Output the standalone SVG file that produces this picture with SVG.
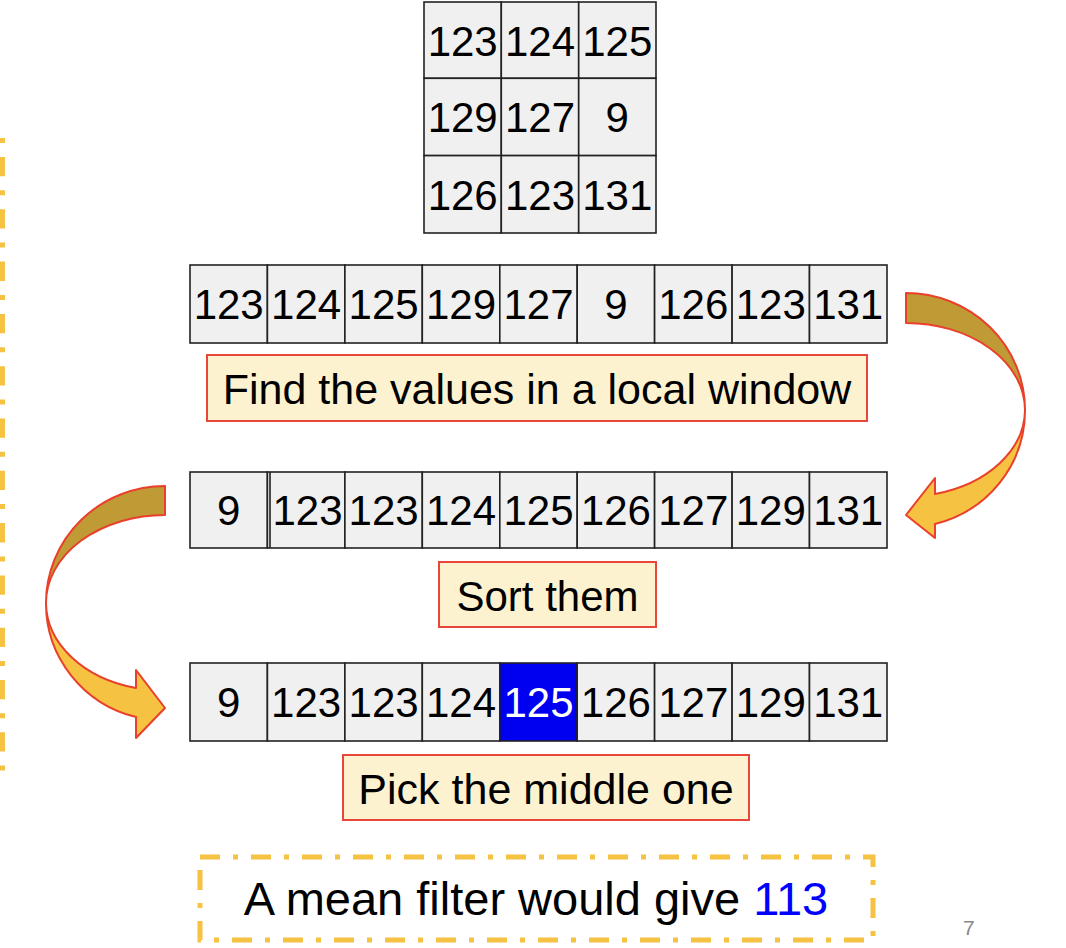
<svg xmlns="http://www.w3.org/2000/svg" width="1066" height="948" viewBox="0 0 1066 948">
<style>
.cell{fill:#f0f0f0;stroke:#222;stroke-width:1.6}
.num{font-family:"Liberation Sans",Arial,sans-serif;font-size:42px;fill:#000;text-anchor:middle}
.lbl{fill:#fdf2d0;stroke:#e8463a;stroke-width:2}
.lt{font-family:"Liberation Sans",Arial,sans-serif;font-size:43px;fill:#000;text-anchor:middle}
.dash{fill:none;stroke:#f5c242;stroke-width:5;stroke-dasharray:20 13 5 13}
.dark{fill:#c09a35;stroke:#e8402a;stroke-width:2;stroke-linejoin:round}
.light{fill:#f5c242;stroke:#e8402a;stroke-width:2;stroke-linejoin:round}
</style>
<rect width="1066" height="948" fill="#fff"/>

<g id="frame-left">
<line x1="2.5" y1="138" x2="2.5" y2="772" class="dash" style="stroke-dasharray:5 14 19.3 14"/>
</g>

<g id="window-grid">
<rect class="cell" x="424" y="2" width="77.3" height="76.3"/>
<rect class="cell" x="501.3" y="2" width="77.4" height="76.3"/>
<rect class="cell" x="578.7" y="2" width="77.3" height="76.3"/>
<rect class="cell" x="424" y="78.3" width="77.3" height="77.3"/>
<rect class="cell" x="501.3" y="78.3" width="77.4" height="77.3"/>
<rect class="cell" x="578.7" y="78.3" width="77.3" height="77.3"/>
<rect class="cell" x="424" y="155.6" width="77.3" height="77.4"/>
<rect class="cell" x="501.3" y="155.6" width="77.4" height="77.4"/>
<rect class="cell" x="578.7" y="155.6" width="77.3" height="77.4"/>
<text class="num" x="462.7" y="56">123</text>
<text class="num" x="540" y="56">124</text>
<text class="num" x="617.3" y="56">125</text>
<text class="num" x="462.7" y="132">129</text>
<text class="num" x="540" y="132">127</text>
<text class="num" x="617.3" y="132">9</text>
<text class="num" x="462.7" y="210">126</text>
<text class="num" x="540" y="210">123</text>
<text class="num" x="617.3" y="210">131</text>
</g>

<g id="row-values">
<rect class="cell" x="190" y="265" width="77.4" height="78"/>
<rect class="cell" x="267.4" y="265" width="77.5" height="78"/>
<rect class="cell" x="344.9" y="265" width="77.4" height="78"/>
<rect class="cell" x="422.3" y="265" width="77.5" height="78"/>
<rect class="cell" x="499.8" y="265" width="77.4" height="78"/>
<rect class="cell" x="577.2" y="265" width="77.4" height="78"/>
<rect class="cell" x="654.6" y="265" width="77.5" height="78"/>
<rect class="cell" x="732.1" y="265" width="77.4" height="78"/>
<rect class="cell" x="809.5" y="265" width="77.5" height="78"/>
<text class="num" x="228.7" y="319">123</text>
<text class="num" x="306.1" y="319">124</text>
<text class="num" x="383.6" y="319">125</text>
<text class="num" x="461" y="319">129</text>
<text class="num" x="538.5" y="319">127</text>
<text class="num" x="615.9" y="319">9</text>
<text class="num" x="693.3" y="319">126</text>
<text class="num" x="770.8" y="319">123</text>
<text class="num" x="848.2" y="319">131</text>
</g>

<g id="label-find">
<rect class="lbl" x="207" y="355" width="660" height="66"/>
<text class="lt" x="537" y="404">Find the values in a local window</text>
</g>

<g id="row-sorted">
<rect class="cell" x="190" y="472" width="77.4" height="76"/>
<rect class="cell" x="267.4" y="472" width="77.5" height="76"/>
<rect class="cell" x="344.9" y="472" width="77.4" height="76"/>
<rect class="cell" x="422.3" y="472" width="77.5" height="76"/>
<rect class="cell" x="499.8" y="472" width="77.4" height="76"/>
<rect class="cell" x="577.2" y="472" width="77.4" height="76"/>
<rect class="cell" x="654.6" y="472" width="77.5" height="76"/>
<rect class="cell" x="732.1" y="472" width="77.4" height="76"/>
<rect class="cell" x="809.5" y="472" width="77.5" height="76"/>
<line x1="270" y1="472" x2="270" y2="548" stroke="#222" stroke-width="1.6"/>
<text class="num" x="228.7" y="525">9</text>
<text class="num" x="307.5" y="525">123</text>
<text class="num" x="383.6" y="525">123</text>
<text class="num" x="461" y="525">124</text>
<text class="num" x="538.5" y="525">125</text>
<text class="num" x="615.9" y="525">126</text>
<text class="num" x="693.3" y="525">127</text>
<text class="num" x="770.8" y="525">129</text>
<text class="num" x="848.2" y="525">131</text>
</g>

<g id="label-sort">
<rect class="lbl" x="439" y="562" width="217" height="65"/>
<text class="lt" x="547.5" y="611" style="font-size:42px">Sort them</text>
</g>

<g id="row-median">
<rect class="cell" x="190" y="663" width="77.4" height="78"/>
<rect class="cell" x="267.4" y="663" width="77.5" height="78"/>
<rect class="cell" x="344.9" y="663" width="77.4" height="78"/>
<rect class="cell" x="422.3" y="663" width="77.5" height="78"/>
<rect class="cell" x="499.8" y="663" width="77.4" height="78" style="fill:#0000f0"/>
<rect class="cell" x="577.2" y="663" width="77.4" height="78"/>
<rect class="cell" x="654.6" y="663" width="77.5" height="78"/>
<rect class="cell" x="732.1" y="663" width="77.4" height="78"/>
<rect class="cell" x="809.5" y="663" width="77.5" height="78"/>
<text class="num" x="228.7" y="717">9</text>
<text class="num" x="306.1" y="717">123</text>
<text class="num" x="383.6" y="717">123</text>
<text class="num" x="461" y="717">124</text>
<text class="num" x="538.5" y="717" style="fill:#fff">125</text>
<text class="num" x="615.9" y="717">126</text>
<text class="num" x="693.3" y="717">127</text>
<text class="num" x="770.8" y="717">129</text>
<text class="num" x="848.2" y="717">131</text>
</g>

<g id="label-pick">
<rect class="lbl" x="343" y="755" width="406" height="65"/>
<text class="lt" x="546" y="804">Pick the middle one</text>
</g>

<g id="mean-note">
<rect class="dash" x="200" y="857" width="673" height="83"/>
<text x="536" y="915" style="font-family:'Liberation Sans',Arial,sans-serif;font-size:47px;fill:#000;text-anchor:middle">A mean filter would give <tspan fill="#0000ff">113</tspan></text>
</g>

<g id="connectors">
<g id="arrow-right">
<path class="dark" d="M906,293 A119,117 0 0 1 1025,410 A119,87 0 0 0 906,323 Z"/>
<path class="light" d="M1025,410 A119,117 0 0 1 935,524 L935,538 L906,515 L935,478 L935,494 A119,87 0 0 0 1025,410 Z"/>
</g>
<g id="arrow-left">
<path class="dark" d="M165,486 A119,117 0 0 0 46,603 A119,88 0 0 1 165,515 Z"/>
<path class="light" d="M46,603 A119,117 0 0 0 136,717 L136,738 L165,708 L136,670 L136,688 A119,88 0 0 1 46,603 Z"/>
</g>
</g>

<text x="963" y="935" style="font-family:'Liberation Sans',Arial,sans-serif;font-size:21px;fill:#888">7</text>
</svg>
